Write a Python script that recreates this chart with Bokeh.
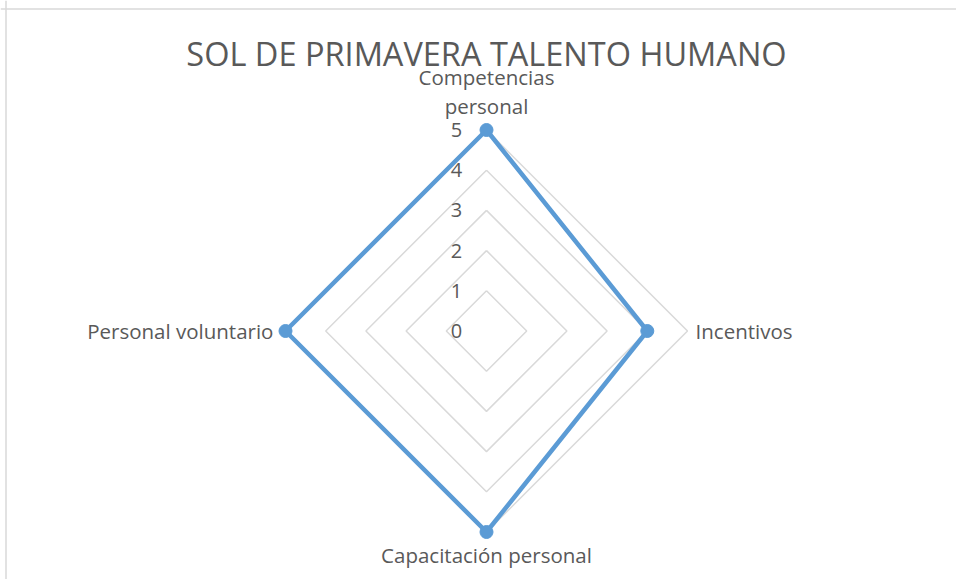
import numpy as np
from bokeh.plotting import figure
from bokeh.models import ColumnDataSource, Range1d, Span
from bokeh.embed import file_html
from bokeh.resources import INLINE
from bokeh.core.properties import value

# ---- data ----
title_text = "SOL DE PRIMAVERA TALENTO HUMANO"
categories = ["Competencias\npersonal", "Incentivos", "Capacitación personal", "Personal voluntario"]
series_values = [5, 4, 5, 5]
ring_levels = [1, 2, 3, 4, 5]
tick_values = [0, 1, 2, 3, 4, 5]
tick_labels = ["0", "1", "2", "3", "4", "5"]

# ---- layout ----
FONT = "Open Sans"
TEXT_COLOR = "#595959"
GRID_COLOR = "#d9d9d9"
SERIES_COLOR = "#5b9bd5"
unit = 40.2
W, H = 956, 579
cx, cy = 486, 330.5

n = len(categories)
angles = np.pi / 2 - 2 * np.pi * np.arange(n) / n

p = figure(width=W, height=H, output_backend="svg", toolbar_location=None,
           x_range=Range1d(-cx / unit, (W - cx) / unit),
           y_range=Range1d(-(H - cy) / unit, cy / unit),
           x_axis_location=None, y_axis_location=None, min_border=0)
p.grid.visible = False
p.outline_line_color = None
p.background_fill_color = "white"
p.border_fill_color = "white"

# chart-area border (top and left edges visible)
p.add_layout(Span(location=(cy - 8.5) / unit, dimension="width", line_color=GRID_COLOR, line_width=1.5))
p.add_layout(Span(location=(5.5 - cx) / unit, dimension="height", line_color=GRID_COLOR, line_width=1.5))

# grid rings
ring_xs = [list(np.append(r * np.cos(angles), r * np.cos(angles[0]))) for r in ring_levels]
ring_ys = [list(np.append(r * np.sin(angles), r * np.sin(angles[0]))) for r in ring_levels]
p.multi_line(ring_xs, ring_ys, line_color=GRID_COLOR, line_width=1.5)

# series
vals = np.array(series_values, dtype=float)
sx = vals * np.cos(angles)
sy = vals * np.sin(angles)
p.line(list(np.append(sx, sx[0])), list(np.append(sy, sy[0])),
       line_color=SERIES_COLOR, line_width=4.5, line_join="round")
p.scatter(list(sx), list(sy), size=13, fill_color=SERIES_COLOR, line_color=SERIES_COLOR)

# tick labels on top spoke
p.text(x=[-0.75] * len(tick_values), y=tick_values, text=tick_labels,
       text_font=value(FONT), text_font_size="20px", text_color=TEXT_COLOR,
       text_align="center", text_baseline="middle")

# category labels
label_r = np.array([5.96, 5.2, 5.58, 5.3])
aligns = ["center", "left", "center", "right"]
src = ColumnDataSource(dict(x=list(label_r * np.cos(angles)), y=list(label_r * np.sin(angles)),
                            text=categories, align=aligns))
p.text(x="x", y="y", text="text", text_align="align", source=src,
       text_font=value(FONT), text_font_size="20.5px", text_color=TEXT_COLOR,
       text_baseline="middle", text_line_height=1.05)

# title
p.text(x=[0], y=[(cy - 53) / unit], text=[title_text], text_font=value(FONT),
       text_font_size="32.5px", text_color=TEXT_COLOR, text_align="center", text_baseline="middle")

open("out.html", "w").write(file_html(p, INLINE))
